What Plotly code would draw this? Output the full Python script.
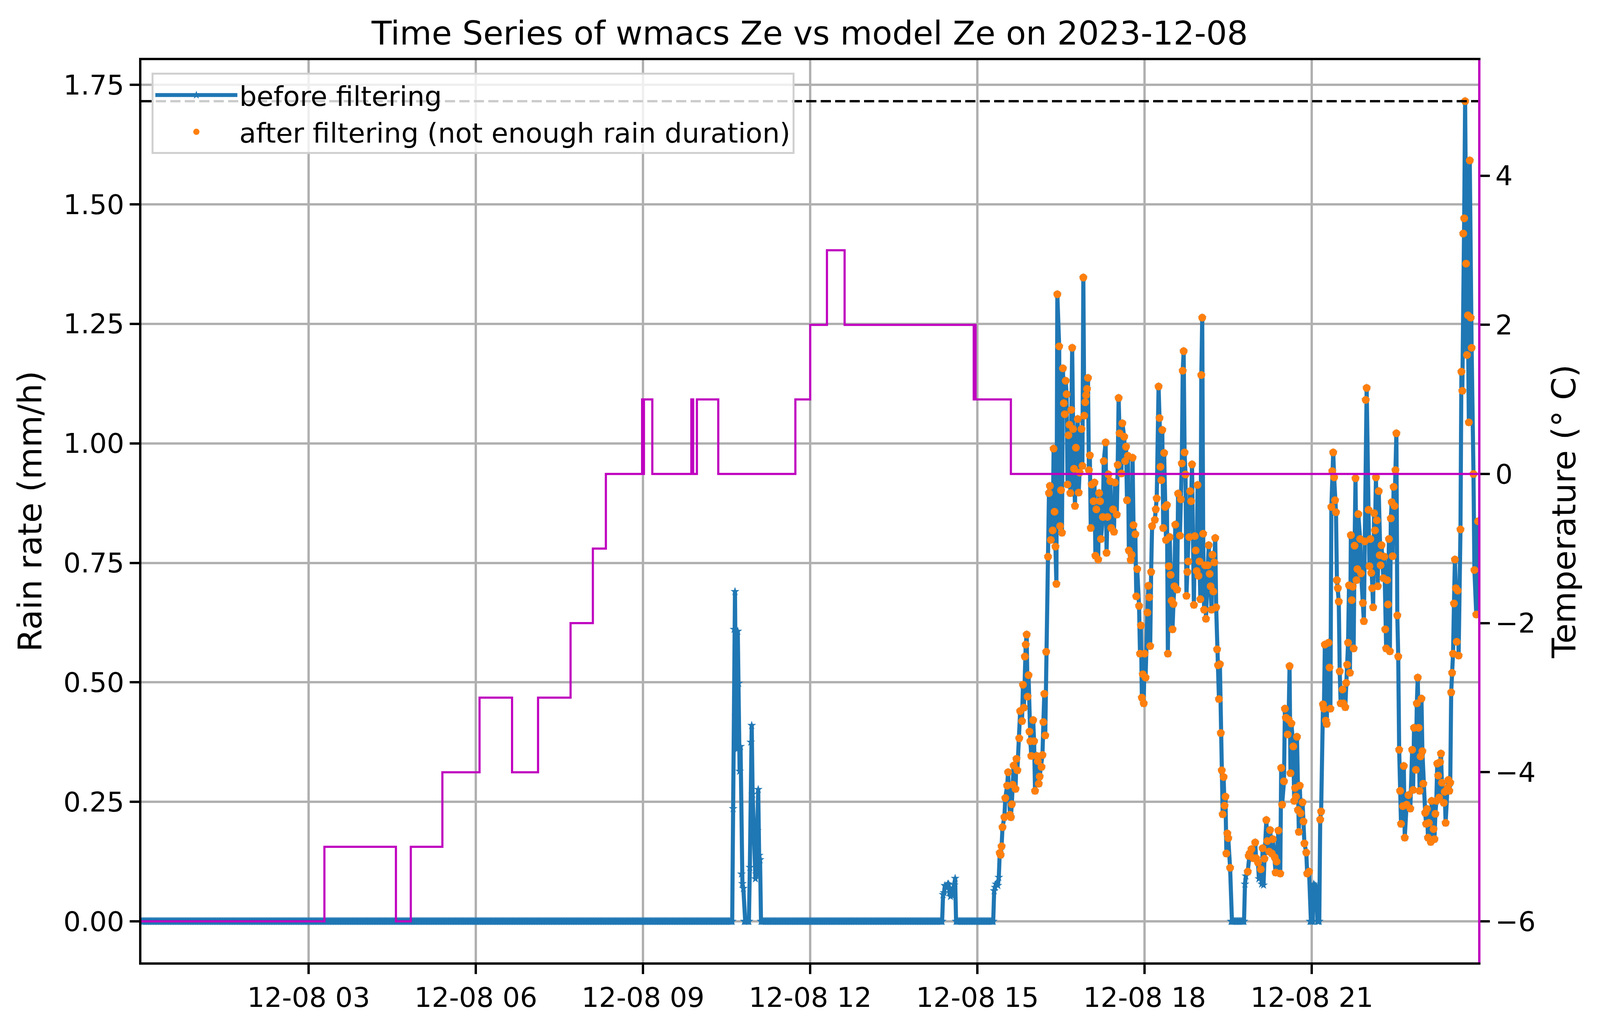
import pandas as pd
import plotly.graph_objects as go

day = pd.Timestamp("2023-12-08")

# ---- rain rate (mm/h), 1-minute data, keyed by minute of day ----
# every minute outside the wet spells below reads 0.0
spell1_min = list(range(637, 667))                                     # 10:37 - 11:06
spell1_val = [0.236, 0.611, 0.69, 0.43, 0.36, 0.607, 0.498, 0.314, 0.366, 0.099,
              0.079, 0.069, 0.0, 0.0, 0.0, 0.0, 0.0, 0.0, 0.113, 0.375,
              0.41, 0.266, 0.206, 0.197, 0.089, 0.099, 0.19, 0.276, 0.138, 0.129]

spell2_min = list(range(863, 877))                                     # 14:23 - 14:36
spell2_val = [0.056, 0.06, 0.075, 0.073, 0.07, 0.078, 0.078, 0.06, 0.052, 0.055,
              0.06, 0.07, 0.076, 0.09]

spell3_min = [918, 919, 920, 922, 923, 924, 925, 926, 927, 929, 930, 932, 933, 935, 936,
              937, 938, 939, 941, 942, 943, 945, 946, 948, 949, 950, 951, 952, 953, 954,
              955, 956, 957, 958, 960, 961, 962, 964, 965, 966, 967, 969, 970, 971, 972,
              973, 974, 976, 977, 978, 979, 981, 982, 983, 984, 985, 986, 988, 989, 990,
              991, 992, 993, 994, 995, 996, 997, 998, 999, 1000, 1001, 1002, 1003, 1004, 1005,
              1006, 1008, 1009, 1010, 1012, 1013, 1014, 1015, 1016, 1017, 1018, 1019, 1020, 1021, 1022,
              1023, 1025, 1026, 1027, 1028, 1030, 1031, 1032, 1033, 1035, 1036, 1038, 1039, 1040, 1041,
              1043, 1044, 1046, 1047, 1048, 1050, 1051, 1052, 1053, 1055, 1056, 1058, 1059, 1060, 1061,
              1062, 1063, 1065, 1066, 1067, 1068, 1070, 1071, 1072, 1074, 1075, 1076, 1077, 1078, 1079,
              1080, 1081, 1083, 1084, 1085, 1086, 1087, 1088, 1091, 1092, 1093, 1095, 1096, 1097, 1098,
              1099, 1100, 1101, 1102, 1103, 1104, 1105, 1106, 1107, 1108, 1109, 1110, 1111, 1112, 1113,
              1115, 1116, 1118, 1119, 1120, 1121, 1122, 1123, 1124, 1125, 1126, 1127, 1128, 1129, 1130,
              1131, 1133, 1134, 1135, 1136, 1137, 1138, 1139, 1140, 1141, 1142, 1143, 1144, 1145, 1146,
              1148, 1149, 1150, 1151, 1152, 1153, 1154, 1155, 1156, 1157, 1158, 1159, 1160, 1161, 1162,
              1163, 1164, 1165, 1166, 1167, 1168, 1169, 1170, 1172]
spell3_val = [0.064, 0.071, 0.078, 0.075, 0.092, 0.143, 0.139, 0.157, 0.197, 0.218, 0.258, 0.284, 0.312, 0.223, 0.218,
              0.245, 0.286, 0.326, 0.277, 0.34, 0.316, 0.383, 0.44, 0.419, 0.495, 0.447, 0.554, 0.579, 0.6, 0.47,
              0.515, 0.397, 0.377, 0.346, 0.421, 0.377, 0.273, 0.346, 0.335, 0.288, 0.303, 0.323, 0.348, 0.417, 0.476,
              0.389, 0.564, 0.763, 0.896, 0.911, 0.798, 0.818, 0.989, 0.857, 0.784, 0.706, 1.312, 1.203, 0.827, 0.902,
              0.813, 1.157, 1.084, 1.061, 1.131, 1.103, 0.914, 1.017, 1.039, 0.896, 1.07, 1.2, 1.03, 0.947, 0.869,
              0.991, 1.051, 0.897, 0.939, 1.03, 0.953, 1.347, 1.058, 1.086, 1.101, 1.114, 1.137, 0.944, 0.975, 0.823,
              0.914, 0.879, 0.918, 0.765, 0.862, 0.757, 0.896, 0.879, 0.80, 0.846, 0.963, 1.002, 0.771, 0.846, 0.935,
              0.921, 0.823, 0.862, 0.815, 0.918, 0.851, 0.955, 1.095, 1.021, 0.937, 1.042, 1.014, 0.963, 0.993, 0.881,
              0.974, 0.776, 0.756, 0.767, 0.970, 0.829, 0.81, 0.68, 0.737, 0.66, 0.56, 0.619, 0.468, 0.517, 0.456,
              0.56, 0.51, 0.646, 0.702, 0.678, 0.576, 0.731, 0.827, 0.84, 0.862, 0.885, 1.119, 1.053, 0.951, 0.923,
              1.028, 0.823, 0.98, 0.867, 0.798, 0.871, 0.56, 0.743, 0.804, 0.725, 0.671, 0.611, 0.664, 0.701, 0.83,
              0.694, 0.895, 0.807, 0.883, 0.958, 1.152, 1.193, 0.981, 0.935, 0.681, 0.731, 0.753, 0.804, 0.9, 0.879,
              0.956, 0.662, 0.806, 0.776, 0.733, 0.913, 0.723, 0.753, 0.674, 1.143, 1.263, 0.811, 0.652, 0.745, 0.633,
              0.745, 0.787, 0.727, 0.701, 0.652, 0.767, 0.69, 0.751, 0.802, 0.657, 0.569, 0.536, 0.465, 0.538, 0.394,
              0.316, 0.224, 0.302, 0.242, 0.261, 0.142, 0.184, 0.174, 0.112]

spell4_min = [1188, 1189, 1191, 1192, 1193, 1195, 1197, 1199, 1200, 1202, 1203, 1205, 1206, 1207, 1208,
              1209, 1211, 1212, 1214, 1215, 1217, 1218, 1220, 1221, 1222, 1224, 1226, 1227, 1228, 1230,
              1231, 1232, 1234, 1235, 1236, 1237, 1238, 1240, 1241, 1242, 1243, 1244, 1245, 1246, 1247,
              1248, 1250, 1251, 1252, 1254, 1255, 1257]
spell4_val = [0.078, 0.095, 0.104, 0.137, 0.142, 0.151, 0.132, 0.165, 0.132, 0.123, 0.089, 0.109, 0.078, 0.153, 0.076,
              0.131, 0.212, 0.168, 0.146, 0.191, 0.142, 0.172, 0.134, 0.102, 0.125, 0.19, 0.1, 0.321, 0.244, 0.293,
              0.445, 0.426, 0.391, 0.422, 0.534, 0.31, 0.414, 0.366, 0.252, 0.279, 0.261, 0.386, 0.233, 0.187, 0.284,
              0.226, 0.249, 0.209, 0.163, 0.144, 0.1, 0.104]

spell5_min = [1262, 1263, 1264, 1265]
spell5_val = [0.078, 0.075, 0.074, 0.072]

spell6_min = [1269, 1270, 1272, 1273, 1274, 1275, 1276, 1278, 1279, 1280, 1281, 1282, 1283, 1284, 1285,
              1286, 1287, 1288, 1289, 1290, 1291, 1293, 1294, 1296, 1297, 1298, 1299, 1300, 1301, 1302,
              1303, 1304, 1305, 1306, 1307, 1308, 1309, 1310, 1312, 1313, 1315, 1316, 1317, 1318, 1319,
              1321, 1322, 1323, 1324, 1325, 1326, 1327, 1328, 1329, 1330, 1331, 1332, 1333, 1334, 1335,
              1337, 1338, 1339, 1340, 1341, 1342, 1343, 1344, 1345, 1346, 1347, 1348, 1349, 1350, 1351,
              1352, 1353, 1354, 1355, 1356, 1358, 1359, 1360, 1362, 1364, 1366, 1368, 1369, 1370, 1372,
              1373, 1374, 1375, 1376, 1377, 1378, 1379, 1380, 1382, 1383, 1384, 1385, 1386, 1388, 1389,
              1391, 1392, 1393, 1394, 1395, 1396, 1397, 1398, 1399, 1400, 1402, 1403, 1404, 1406, 1407,
              1408, 1409, 1410, 1411, 1412, 1413, 1414, 1415, 1416, 1417, 1418, 1420, 1421, 1422, 1423,
              1424, 1425, 1426, 1427, 1428, 1429, 1430, 1431, 1432, 1434, 1435, 1437, 1439]
spell6_val = [0.213, 0.23, 0.454, 0.445, 0.579, 0.42, 0.413, 0.583, 0.531, 0.445, 0.867, 0.942, 0.981, 0.929, 0.881,
              0.856, 0.714, 0.697, 0.669, 0.523, 0.456, 0.485, 0.456, 0.448, 0.499, 0.537, 0.583, 0.703, 0.52, 0.808,
              0.672, 0.7, 0.571, 0.786, 0.927, 0.714, 0.737, 0.852, 0.8, 0.728, 0.666, 0.628, 0.795, 1.091, 1.116,
              0.861, 0.743, 0.8, 0.729, 0.697, 0.657, 0.854, 0.818, 0.929, 0.839, 0.701, 0.9, 0.766, 0.745, 0.787,
              0.718, 0.763, 0.611, 0.571, 0.714, 0.663, 0.8, 0.565, 0.843, 0.877, 0.764, 0.909, 0.869, 0.944, 1.021,
              0.64, 0.554, 0.359, 0.273, 0.204, 0.241, 0.325, 0.175, 0.244, 0.264, 0.236, 0.359, 0.275, 0.405, 0.317,
              0.456, 0.51, 0.405, 0.273, 0.345, 0.466, 0.356, 0.288, 0.227, 0.204, 0.235, 0.175, 0.206, 0.166, 0.252,
              0.193, 0.172, 0.225, 0.252, 0.33, 0.305, 0.259, 0.333, 0.351, 0.29, 0.248, 0.271, 0.206, 0.279, 0.296,
              0.273, 0.29, 0.479, 0.52, 0.56, 0.665, 0.757, 0.697, 0.585, 0.692, 0.556, 0.82, 1.15, 1.11, 1.439,
              1.471, 1.716, 1.376, 1.185, 1.268, 1.044, 1.592, 1.263, 1.2, 0.936, 0.735, 0.642, 0.837]

# filtering: rain below threshold or outside the long event is dropped
filter_start_min = 917
rain_threshold = 0.1

# ---- temperature (deg C), change points ----
temp_change_min = [0, 197, 274, 290, 324, 364, 399, 427, 462, 486, 500, 539, 540, 541, 550,
                   592, 594, 598, 621, 704, 720, 738, 757, 896, 897, 898, 936]
temp_level = [-6, -5, -6, -5, -4, -3, -4, -3, -2, -1, 0, 1, 0, 1, 0,
              1, 0, 1, 0, 1, 2, 3, 2, 1, 2, 1, 0]
temp_threshold = 5

yticks_rain = [0, 0.25, 0.5, 0.75, 1.0, 1.25, 1.5, 1.75]
yticks_temp = [-6, -4, -2, 0, 2, 4]
xtick_hours = [3, 6, 9, 12, 15, 18, 21]

# ---- build series ----
spells = [(spell1_min, spell1_val), (spell2_min, spell2_val), (spell3_min, spell3_val),
          (spell4_min, spell4_val), (spell5_min, spell5_val), (spell6_min, spell6_val)]
wet = {}
spans = []
for mins, vals in spells:
    wet.update(dict(zip(mins, vals)))
    spans.append((min(mins), max(mins)))

minutes, rain = [], []
for m in range(1440):
    if m in wet:
        minutes.append(m)
        rain.append(wet[m])
    elif not any(a <= m <= b for a, b in spans):
        minutes.append(m)
        rain.append(0.0)

t = day + pd.to_timedelta(minutes, unit="min")
after = [v if (m >= filter_start_min and v >= rain_threshold) else None
         for m, v in zip(minutes, rain)]

t_temp = day + pd.to_timedelta(temp_change_min + [1439], unit="min")
temp = temp_level + [temp_level[-1]]

rmax = max(rain)
pad = 0.05 * rmax
tmin, tmax = min(temp_level), temp_threshold
tpad = 0.05 * (tmax - tmin)

FONT = "DejaVu Sans"
GRID = "#b0b0b0"
MAG = "#bf00bf"

fig = go.Figure()
fig.add_trace(go.Scatter(x=t, y=rain, mode="lines+markers", name="before filtering",
                         line=dict(color="#1f77b4", width=10.5),
                         marker=dict(symbol="star", size=17, color="#1f77b4")))
fig.add_trace(go.Scatter(x=t, y=after, mode="markers",
                         name="after filtering (not enough rain duration)",
                         marker=dict(symbol="circle", size=20, color="#ff7f0e")))
fig.add_trace(go.Scatter(x=t_temp, y=temp, mode="lines", line_shape="hv",
                         line=dict(color=MAG, width=5.5), yaxis="y2", showlegend=False))

fig.add_shape(type="line", xref="paper", x0=0, x1=1, yref="y2", y0=temp_threshold, y1=temp_threshold,
              line=dict(color="black", width=6, dash="26px,11px"))

# the figure fills the browser window (the page body keeps its 8px margin,
# so the pixel margins below are shifted by that much)
fig.update_layout(
    autosize=True,
    margin=dict(l=354, r=320, t=146, b=176),
    paper_bgcolor="white", plot_bgcolor="white",
    font=dict(family=FONT, size=70, color="black"),
    title=dict(text="Time Series of wmacs Ze vs model Ze on 2023-12-08",
               font=dict(size=84), x=0.5, xref="paper", xanchor="center",
               y=1, yref="paper", yanchor="bottom", pad=dict(b=40)),
    showlegend=True,
    legend=dict(x=0.0075, y=0.986, xanchor="left", yanchor="top",
                bgcolor="rgba(255,255,255,0.8)", bordercolor="#d0d0d0", borderwidth=5,
                font=dict(size=70), itemwidth=210, tracegroupgap=0),
    xaxis=dict(type="date", range=[day, day + pd.Timedelta(minutes=1439)],
               tickmode="array", tickvals=[day + pd.Timedelta(hours=h) for h in xtick_hours],
               tickformat="%m-%d %H", showgrid=True, gridcolor=GRID, gridwidth=5.5,
               showline=True, linecolor="black", linewidth=6, mirror=True,
               ticks="outside", ticklen=24, tickwidth=5.5, tickcolor="black", zeroline=False),
    yaxis=dict(range=[-pad, rmax + pad], tickmode="array", tickvals=yticks_rain, tickformat=".2f",
               showgrid=True, gridcolor=GRID, gridwidth=5.5,
               showline=True, linecolor="black", linewidth=6,
               ticks="outside", ticklen=24, tickwidth=5.5, tickcolor="black", zeroline=False,
               title=dict(text="Rain rate (mm/h)", font=dict(size=84), standoff=30)),
    yaxis2=dict(overlaying="y", side="right", range=[tmin - tpad, tmax + tpad],
                tickmode="array", tickvals=yticks_temp, showgrid=False,
                showline=True, linecolor=MAG, linewidth=6,
                ticks="outside", ticklen=24, tickwidth=5.5, tickcolor="black", zeroline=False,
                title=dict(text="Temperature (° C)", font=dict(size=84), standoff=46)),
)

fig.write_html("out.html", default_width="100vw", default_height="100vh")
